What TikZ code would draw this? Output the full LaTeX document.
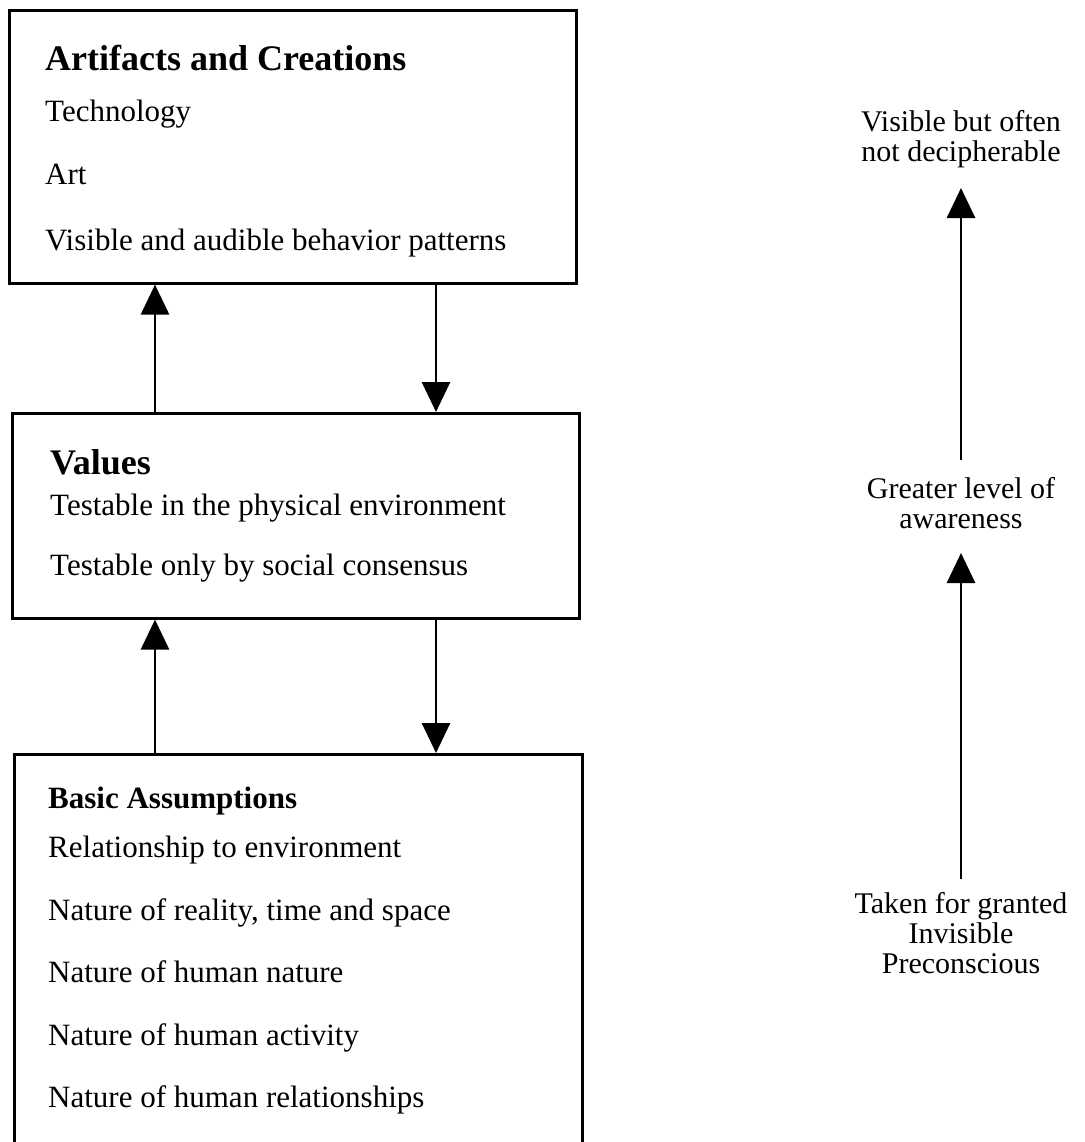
\documentclass[tikz,border=0pt]{standalone}
\usepackage{fontspec}
\setmainfont{Liberation Serif}
\usetikzlibrary{arrows.meta}
\begin{document}
\begin{tikzpicture}[x=1pt,y=-1pt,
  box/.style={draw,line width=2.6pt,anchor=north west,inner sep=0pt},
  body/.style={anchor=base west,inner sep=0pt,font=\fontsize{31}{34}\selectfont},
  head/.style={anchor=base west,inner sep=0pt,font=\fontsize{36}{40}\selectfont\bfseries},
  subhead/.style={anchor=base west,inner sep=0pt,font=\fontsize{31}{34}\selectfont\bfseries},
  side/.style={anchor=base,inner sep=0pt,font=\fontsize{30}{33}\selectfont},
  link/.style={line width=2.8pt,-{Triangle[width=28pt,length=30pt]}}]
\useasboundingbox (0,0) rectangle (1084,1142);
\clip (0,0) rectangle (1084,1142);

% the three levels
\node[box,minimum width=567pt,minimum height=273pt] (art) at (8,9) {};
\node[box,minimum width=567pt,minimum height=205pt] (val) at (11,412) {};
\node[box,minimum width=568pt,minimum height=420pt] (bas) at (13,753) {};

% level texts
\node[head] (artH) at (45,71) {Artifacts and Creations};
\node[body] (art1) at (45,122) {Technology};
\node[body] (art2) at (45,185) {Art};
\node[body] (art3) at (45,250) {Visible and audible behavior patterns};

\node[head] (valH) at (50,474) {Values};
\node[body] (val1) at (50,515) {Testable in the physical environment};
\node[body] (val2) at (50,575) {Testable only by social consensus};

\node[subhead] (basH) at (48,808) {Basic Assumptions};
\node[body] (bas1) at (48,857) {Relationship to environment};
\node[body] (bas2) at (48,920) {Nature of reality, time and space};
\node[body] (bas3) at (48,982) {Nature of human nature};
\node[body] (bas4) at (48,1045) {Nature of human activity};
\node[body] (bas5) at (48,1107) {Nature of human relationships};

% links between levels
\coordinate (xl) at (155,0);
\coordinate (xr) at (436,0);
\draw[link] (val.north -| xl) -- (art.south -| xl);
\draw[link] (art.south -| xr) -- (val.north -| xr);
\draw[link] (bas.north -| xl) -- (val.south -| xl);
\draw[link] (val.south -| xr) -- (bas.north -| xr);

% awareness scale
\node[side] (vis1) at (961,132) {Visible but often};
\node[side] (vis2) at (961,162) {not decipherable};
\node[side] (grt1) at (961,498) {Greater level of};
\node[side] (grt2) at (961,528) {awareness};
\node[side] (tkn1) at (961,913) {Taken for granted};
\node[side] (tkn2) at (961,943) {Invisible};
\node[side] (tkn3) at (961,973) {Preconscious};

\coordinate (up1s) at (961,460);
\coordinate (up1e) at (961,188);
\coordinate (up2s) at (961,879);
\coordinate (up2e) at (961,553);
\draw[link] (up1s) -- (up1e);
\draw[link] (up2s) -- (up2e);
\end{tikzpicture}
\end{document}
